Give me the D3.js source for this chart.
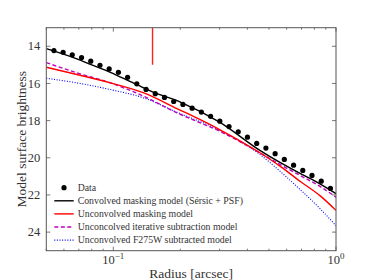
<!DOCTYPE html>
<html>
<head>
<meta charset="utf-8">
<script src="https://cdn.jsdelivr.net/npm/d3@7"></script>
<style>
    body { margin: 0; background: #fff; }
    svg { display: block; }
    text { font-family: "Liberation Serif", "DejaVu Serif", serif; fill: #333; }
</style>
</head>
<body>
<svg id="chart" width="374" height="280"></svg>
<script>
// data points
var dataR = [0.0541, 0.0595, 0.0654, 0.0720, 0.0792, 0.0871, 0.0958, 0.1054, 0.1159, 0.1275,
             0.1403, 0.1543, 0.1697, 0.1867, 0.2054, 0.2259, 0.2485, 0.2734, 0.3007, 0.3308,
             0.3639, 0.4003, 0.4404, 0.4844, 0.5329, 0.5861, 0.6448, 0.7093, 0.7802, 0.8583, 0.9441];
var dataMu = [14.23, 14.32, 14.46, 14.61, 14.80, 15.02, 15.22, 15.40, 15.67, 16.02,
              16.32, 16.55, 16.75, 16.97, 17.13, 17.33, 17.54, 17.77, 18.03, 18.32,
              18.60, 18.89, 19.23, 19.48, 19.78, 20.09, 20.40, 20.68, 20.95, 21.26, 21.65];

// model curves
var convR  = [0.05, 0.0686, 0.08, 0.097, 0.12, 0.137, 0.15, 0.2, 0.3, 0.455, 0.689, 0.847, 1.0];
var convMu = [14.13, 14.68, 15.0, 15.40, 15.92, 16.24, 16.45, 17.0, 18.08, 19.6, 20.84, 21.40, 21.93];

var maskR  = [0.05, 0.0686, 0.097, 0.137, 0.193, 0.3, 0.455, 0.56, 0.689, 0.85, 1.0];
var maskMu = [15.13, 15.52, 15.97, 16.51, 17.35, 18.48, 19.73, 20.45, 21.26, 22.05, 22.83];

var iterR  = [0.05, 0.0686, 0.097, 0.137, 0.193, 0.3, 0.455, 0.56, 0.689, 0.85, 1.0];
var iterMu = [14.88, 15.43, 15.97, 16.69, 17.58, 18.57, 19.73, 20.36, 20.95, 21.55, 22.12];

var f275R  = [0.05, 0.0686, 0.097, 0.137, 0.193, 0.3, 0.455, 0.56, 0.689, 0.85, 1.0];
var f275Mu = [15.72, 15.97, 16.33, 16.78, 17.55, 18.52, 19.82, 20.72, 21.70, 22.75, 23.66];

var markerR = [0.15, 0.15];
var markerMu = [13, 15];

var yTicks = [14, 16, 18, 20, 22, 24];
var xMajor = [0.1, 1];
var xMinor = [0.05, 0.06, 0.07, 0.08, 0.09, 0.2, 0.3, 0.4, 0.5, 0.6, 0.7, 0.8, 0.9];

var legendLabels = ['Data', 'Convolved masking model (Sérsic + PSF)', 'Unconvolved masking model',
                    'Unconcolved iterative subtraction model', 'Unconvolved F275W subtracted model'];

var x0 = 46.3, x1 = 336, y0 = 27.7, y1 = 250.7;

var svg = d3.select('#chart');
var x = d3.scaleLog().domain([0.05, 1]).range([x0, x1]);
var y = d3.scaleLinear().domain([13, 25]).range([y0, y1]);

var plot = svg.append('g');
plot.append('clipPath').attr('id', 'clip')
    .append('rect').attr('x', x0).attr('y', y0).attr('width', x1 - x0).attr('height', y1 - y0);

var line = d3.line()
    .x(function(d) { return x(d[0]); })
    .y(function(d) { return y(d[1]); })
    .curve(d3.curveMonotoneX);

function pairs(a, b) { return a.map(function(v, i) { return [v, b[i]]; }); }

var curves = plot.append('g').attr('clip-path', 'url(#clip)');

curves.append('path').datum(pairs(f275R, f275Mu))
    .attr('d', line).attr('fill', 'none')
    .attr('stroke', '#0000ff').attr('stroke-width', 1.1).attr('stroke-dasharray', '1,1.6');

curves.append('path').datum(pairs(iterR, iterMu))
    .attr('d', line).attr('fill', 'none')
    .attr('stroke', '#bf00bf').attr('stroke-width', 1.4).attr('stroke-dasharray', '4,2.5');

curves.append('path').datum(pairs(maskR, maskMu))
    .attr('d', line).attr('fill', 'none')
    .attr('stroke', '#ff0000').attr('stroke-width', 1.4);

curves.append('path').datum(pairs(convR, convMu))
    .attr('d', line).attr('fill', 'none')
    .attr('stroke', '#000').attr('stroke-width', 1.4);

curves.selectAll('circle.data')
    .data(pairs(dataR, dataMu))
    .enter().append('circle').attr('class', 'data')
    .attr('cx', function(d) { return x(d[0]); })
    .attr('cy', function(d) { return y(d[1]); })
    .attr('r', 2.6)
    .attr('fill', '#000');

curves.append('path').datum(pairs(markerR, markerMu))
    .attr('d', d3.line().x(function(d) { return x(d[0]); }).y(function(d) { return y(d[1]); }))
    .attr('stroke', '#ff2020').attr('stroke-width', 1.4).attr('fill', 'none');

// ticks, inward on all four sides
var axes = svg.append('g').attr('stroke', '#555').attr('stroke-width', 0.8);
yTicks.forEach(function(t) {
    axes.append('line').attr('x1', x0).attr('x2', x0 + 4).attr('y1', y(t)).attr('y2', y(t));
    axes.append('line').attr('x1', x1).attr('x2', x1 - 4).attr('y1', y(t)).attr('y2', y(t));
});
xMajor.forEach(function(t) {
    axes.append('line').attr('x1', x(t)).attr('x2', x(t)).attr('y1', y1).attr('y2', y1 - 4);
    axes.append('line').attr('x1', x(t)).attr('x2', x(t)).attr('y1', y0).attr('y2', y0 + 4);
});
xMinor.forEach(function(t) {
    axes.append('line').attr('x1', x(t)).attr('x2', x(t)).attr('y1', y1).attr('y2', y1 - 2);
    axes.append('line').attr('x1', x(t)).attr('x2', x(t)).attr('y1', y0).attr('y2', y0 + 2);
});

svg.append('rect').attr('x', x0).attr('y', y0).attr('width', x1 - x0).attr('height', y1 - y0)
    .attr('fill', 'none').attr('stroke', '#555').attr('stroke-width', 1);

// tick labels
svg.selectAll('text.ytick').data(yTicks).enter().append('text').attr('class', 'ytick')
    .attr('x', x0 - 6).attr('y', function(t) { return y(t) + 4.2; })
    .attr('text-anchor', 'end').attr('font-size', 12.5)
    .text(function(t) { return t; });

xMajor.forEach(function(t) {
    var lab = svg.append('text').attr('x', x(t)).attr('y', 264).attr('text-anchor', 'middle')
        .attr('font-size', 12.5);
    lab.append('tspan').text('10');
    lab.append('tspan').attr('dy', -5).attr('font-size', 9)
        .text(t === 1 ? '0' : '\u22121');
});

svg.append('text').attr('x', (x0 + x1) / 2).attr('y', 277.5).attr('text-anchor', 'middle')
    .attr('font-size', 13.5).text('Radius [arcsec]');

svg.append('text').attr('transform', 'translate(26,' + ((y0 + y1) / 2) + ') rotate(-90)')
    .attr('text-anchor', 'middle').attr('font-size', 13.5).text('Model surface brightness');

// legend
var lx = 54.3, lw = 19.4, tx = 77.7, ly = 187.7, dy = 13.1;
var legend = svg.append('g');
legendLabels.forEach(function(lab, i) {
    var yy = ly + i * dy;
    if (i === 0) {
        legend.append('circle').attr('cx', lx + lw / 2).attr('cy', yy).attr('r', 2.6).attr('fill', '#000');
    } else {
        var s = [null, ['#000', null, 1.4], ['#ff0000', null, 1.4], ['#bf00bf', '4,2.5', 1.4], ['#0000ff', '1,1.6', 1.1]][i];
        legend.append('line').attr('x1', lx).attr('x2', lx + lw).attr('y1', yy).attr('y2', yy)
            .attr('stroke', s[0]).attr('stroke-dasharray', s[1]).attr('stroke-width', s[2]);
    }
    legend.append('text').attr('x', tx).attr('y', yy + 3.2).attr('font-size', 9.8).text(lab);
});
</script>
</body>
</html>
